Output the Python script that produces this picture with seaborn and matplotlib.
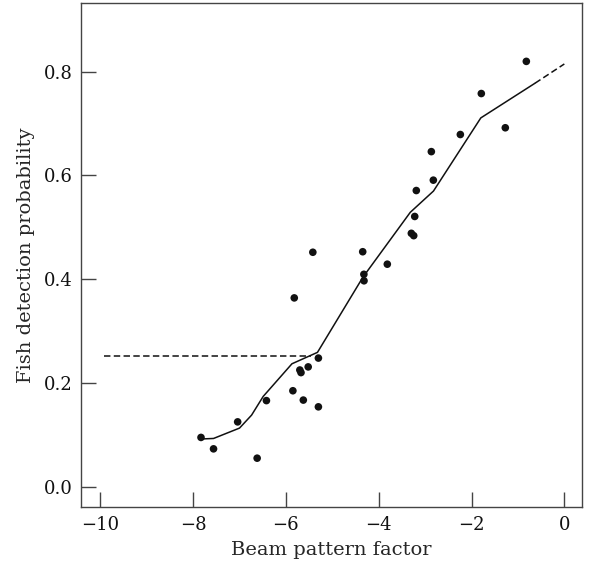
import numpy as np
import pandas as pd
import matplotlib
matplotlib.use('Agg')
import matplotlib.pyplot as plt
import seaborn as sns


# Observed points (beam pattern factor vs detection probability)
beam_x = [-7.83, -7.56, -7.04, -6.62, -6.42, -5.85, -5.82, -5.70, -5.675,
          -5.52, -5.30, -5.625, -5.30, -5.42, -4.345, -4.32, -4.317, -3.815,
          -3.297, -3.246, -3.224, -3.19, -2.823, -2.866, -2.241, -1.789,
          -1.272, -0.819]
detect_p = [0.095, 0.073, 0.125, 0.055, 0.166, 0.185, 0.364, 0.225, 0.220,
            0.231, 0.248, 0.167, 0.154, 0.452, 0.453, 0.4095, 0.397, 0.429,
            0.4885, 0.484, 0.521, 0.571, 0.591, 0.646, 0.679, 0.758,
            0.692, 0.820]

# Fitted curve (solid part)
fit_x = [-7.83, -7.56, -7.00, -6.74, -6.49, -5.87, -5.32, -4.34, -3.32,
         -2.82, -1.80, -0.63]
fit_y = [0.092, 0.093, 0.113, 0.138, 0.174, 0.237, 0.259, 0.404, 0.529,
         0.570, 0.711, 0.778]

# Extrapolated part of the fit (dashed)
ext_x = [-0.63, 0.0]
ext_y = [0.778, 0.815]

# Horizontal reference level (dashed)
flat_x = [-9.93, -5.45]
flat_y = [0.252, 0.252]

pts = pd.DataFrame({'x': beam_x, 'y': detect_p})
fit = pd.DataFrame({'x': fit_x, 'y': fit_y})
ext = pd.DataFrame({'x': ext_x, 'y': ext_y})
flat = pd.DataFrame({'x': flat_x, 'y': flat_y})

sns.set_style('ticks')
plt.rcParams['font.family'] = ['DejaVu Serif']
plt.rcParams['axes.unicode_minus'] = True

fig = plt.figure(figsize=(5.93, 5.70), dpi=100)
ax = fig.add_axes([0.1366, 0.111, 0.981 - 0.1366, 0.9947 - 0.111])

dash = (0, (4.2, 2.2))
sns.lineplot(data=fit, x='x', y='y', ax=ax, color='#111111', lw=1.1,
             sort=False, estimator=None)
sns.lineplot(data=ext, x='x', y='y', ax=ax, color='#111111', lw=1.1,
             sort=False, estimator=None, linestyle=dash)
sns.lineplot(data=flat, x='x', y='y', ax=ax, color='#111111', lw=1.1,
             sort=False, estimator=None, linestyle=dash)
sns.scatterplot(data=pts, x='x', y='y', ax=ax, color='#111111', s=30,
                edgecolor='none', zorder=3)

ax.set_xlim(-10.416, 0.375)
ax.set_ylim(-0.0386, 0.9325)
ax.set_xticks([-10, -8, -6, -4, -2, 0])
ax.set_yticks([0.0, 0.2, 0.4, 0.6, 0.8])
ax.set_yticklabels(['0.0', '0.2', '0.4', '0.6', '0.8'])

ax.set_xlabel('Beam pattern factor', fontsize=14, labelpad=5)
ax.set_ylabel('Fish detection probability', fontsize=14, labelpad=6)

ax.tick_params(axis='both', direction='in', length=11, width=1,
               color='#444444', labelsize=13, labelcolor='#111111')
ax.tick_params(axis='x', pad=7)
ax.tick_params(axis='y', pad=6)

for sp in ax.spines.values():
    sp.set_color('#444444')
    sp.set_linewidth(1)
    sp.set_visible(True)

fig.savefig('out.png', dpi=100)
